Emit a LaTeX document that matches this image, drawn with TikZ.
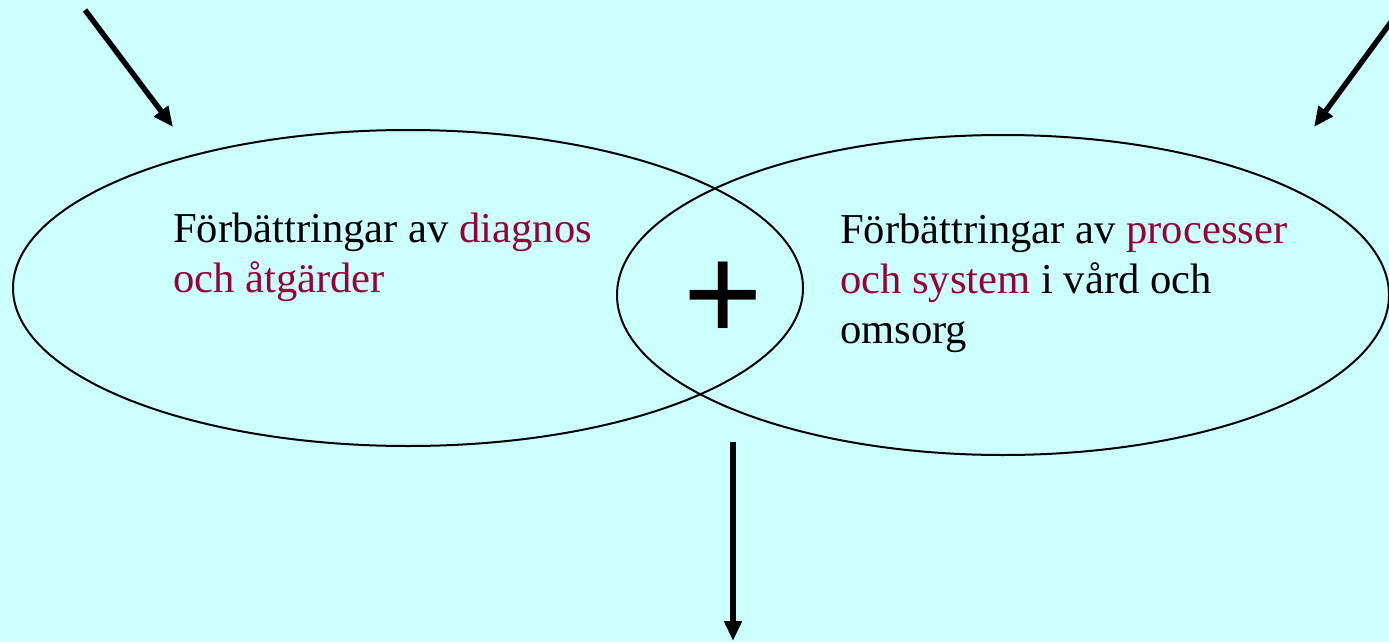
\documentclass[tikz,border=0pt]{standalone}
\usepackage{fontspec}
\setmainfont{Liberation Serif}
\newfontfamily\plusfont{Liberation Sans}
\usetikzlibrary{shapes.geometric,arrows.meta}
\definecolor{bgcyan}{HTML}{CCFFFF}
\definecolor{hilite}{HTML}{990033}
\begin{document}
\begin{tikzpicture}[x=1pt,y=-1pt,
  oval/.style={ellipse,draw=black,line width=2pt,inner sep=0pt},
  bodytext/.style={anchor=base west,inner sep=0pt,align=left,font=\fontsize{42.6}{50}\selectfont},
  bigarrow/.style={line width=5.4pt,-{Triangle[length=20pt,width=17pt]}}]
\fill[bgcyan] (0,0) rectangle (1389,642);
\useasboundingbox (0,0) rectangle (1389,642);
\node[oval,minimum width=790pt,minimum height=316pt] (left) at (408,288) {};
\node[oval,minimum width=772pt,minimum height=320pt] (right) at (1003,295) {};
\node[bodytext] (ltext) at (173,292) {Förbättringar av \textcolor{hilite}{diagnos}\\\textcolor{hilite}{och åtgärder}};
\node[bodytext] (rtext) at (840,343) {Förbättringar av \textcolor{hilite}{processer}\\\textcolor{hilite}{och system} i vård och\\omsorg};
\node[anchor=base,inner sep=0pt,font=\plusfont\fontsize{136}{136}\selectfont] (plus) at (723,340) {+};
\coordinate (la) at (85,10);
\coordinate (lb) at (173,127);
\coordinate (ra) at (1391,22);
\coordinate (rb) at (1314,127);
\coordinate (ba) at (733,442);
\coordinate (bb) at (733,641);
\draw[bigarrow] (la) -- (lb);
\draw[bigarrow] (ra) -- (rb);
\draw[bigarrow] (ba) -- (bb);
\end{tikzpicture}
\end{document}
